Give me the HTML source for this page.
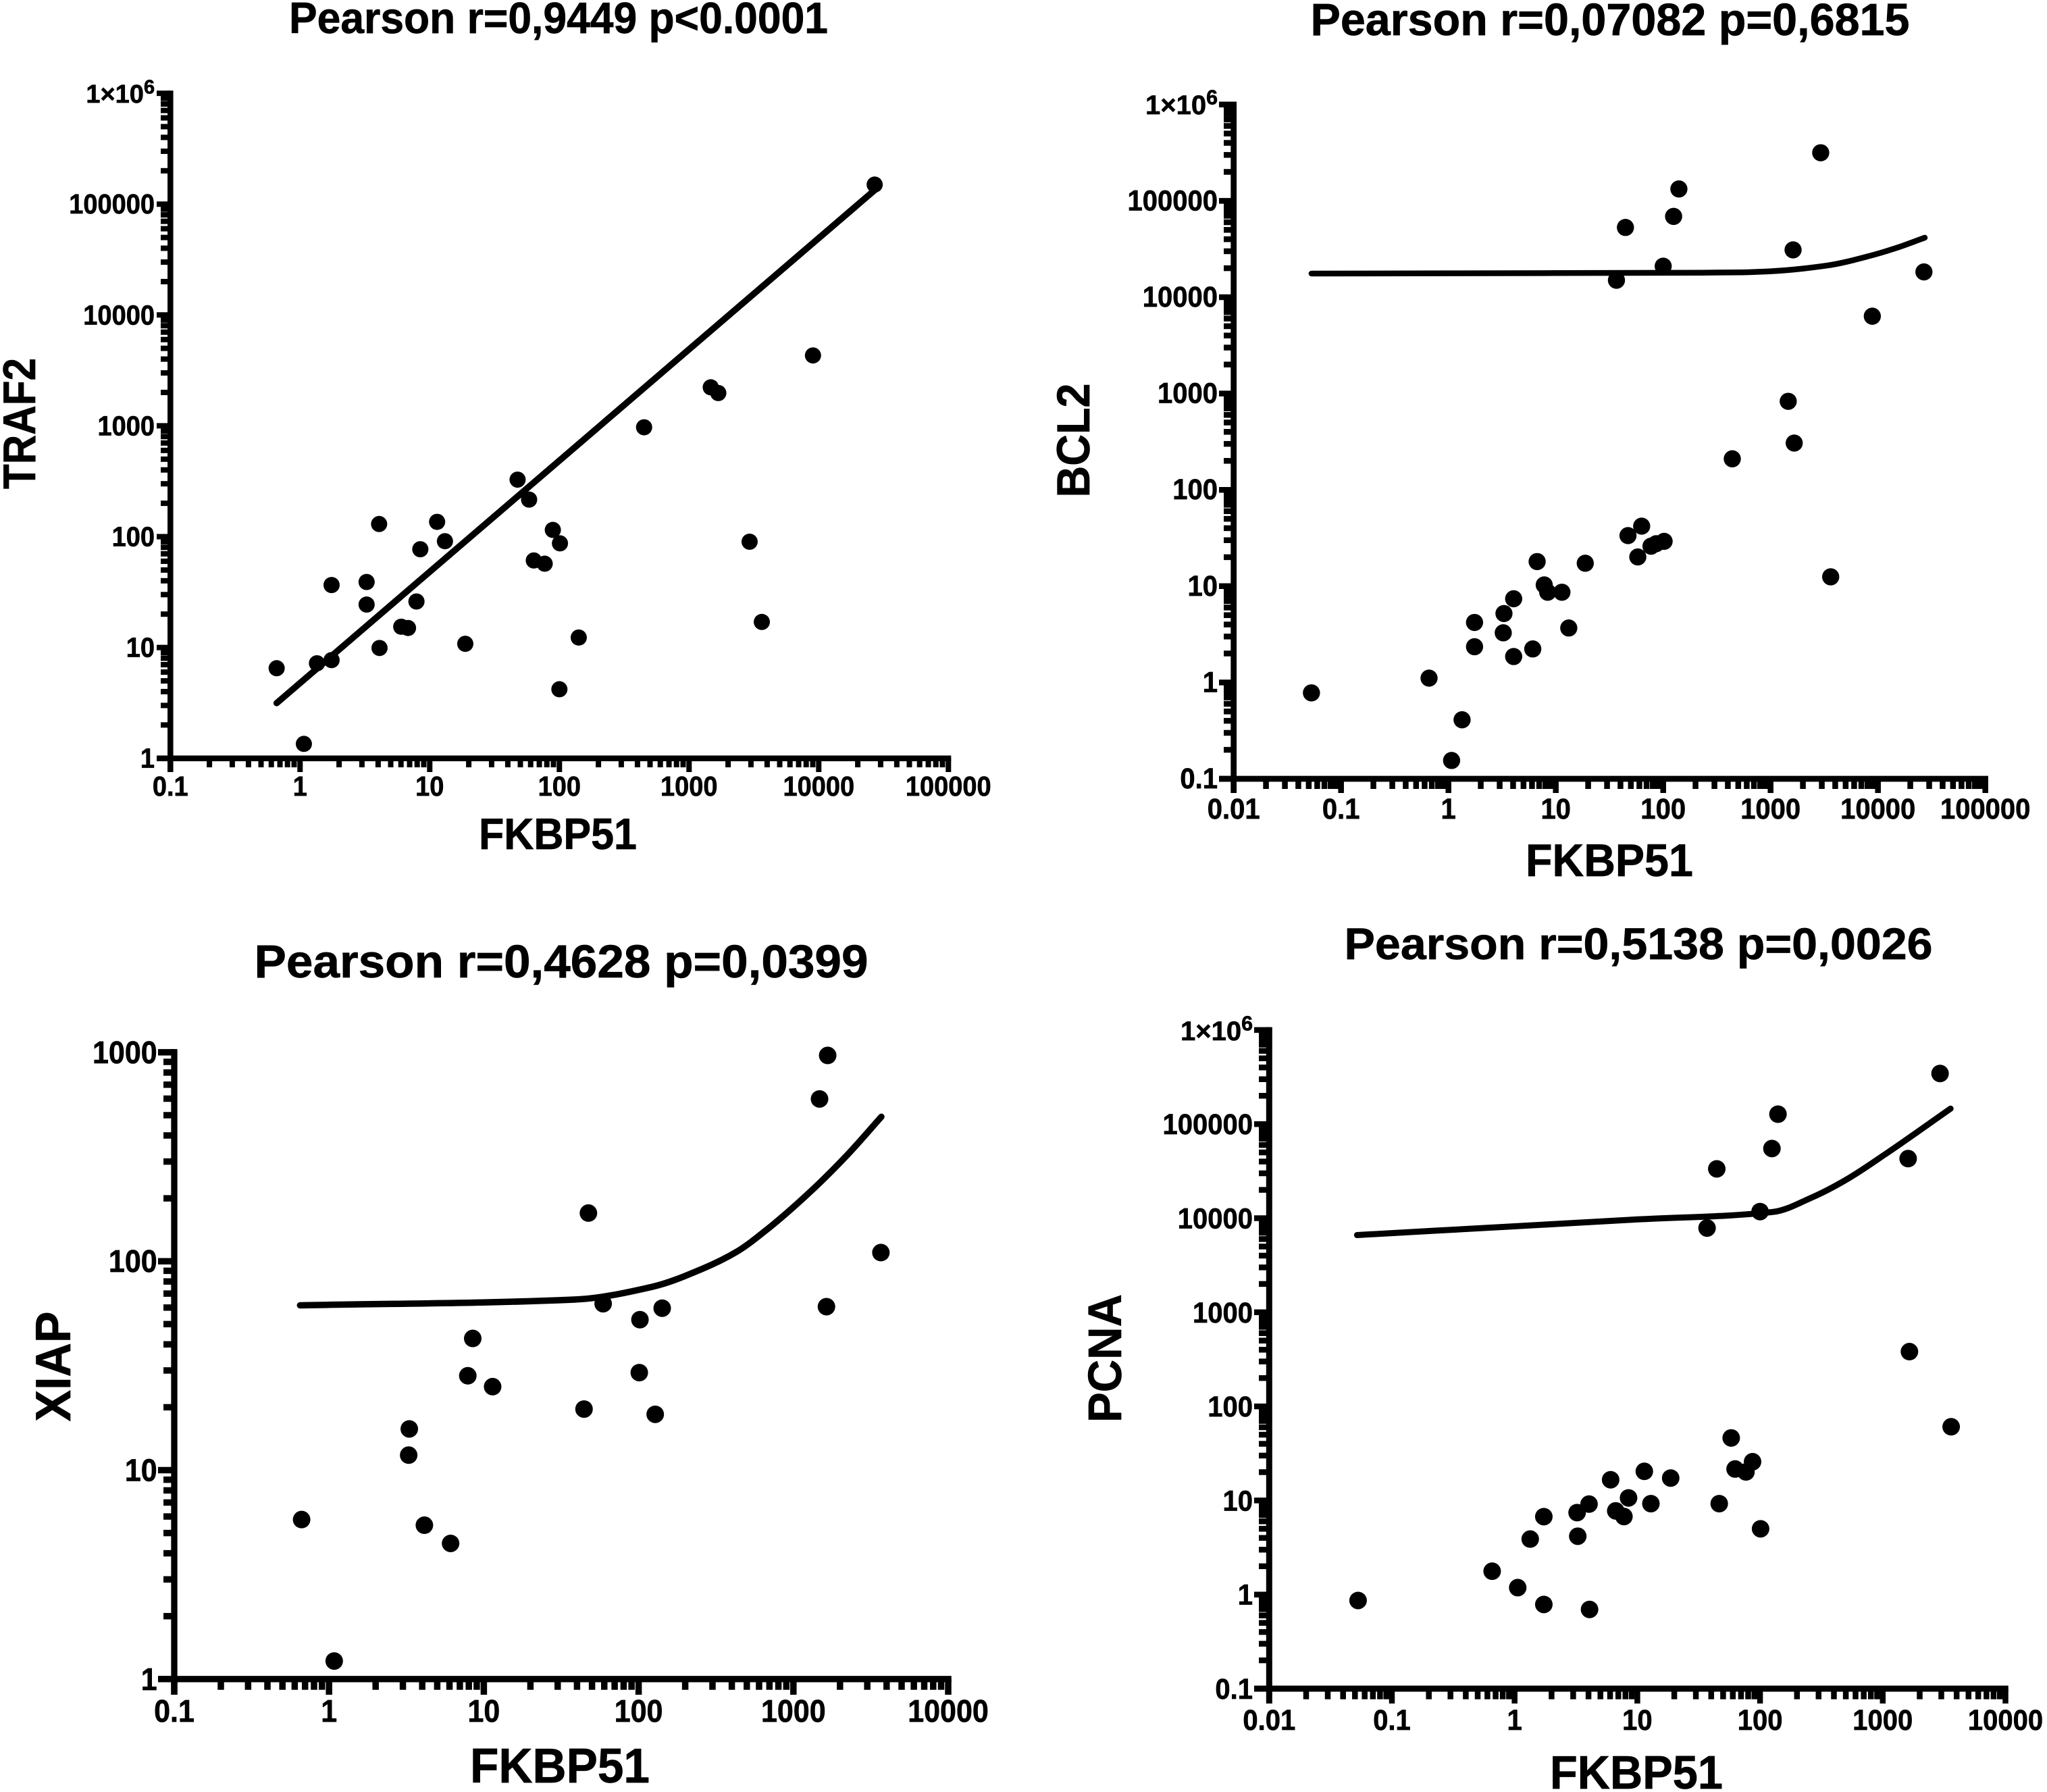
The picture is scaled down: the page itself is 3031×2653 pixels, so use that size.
<!DOCTYPE html>
<html lang="en">
<head>
<meta charset="utf-8">
<title>FKBP51 correlation scatter plots</title>
<style>
html,body{margin:0;padding:0;background:#fff;}
svg{display:block;}
text{font-family:"Liberation Sans",Arial,sans-serif;font-weight:bold;fill:#000;stroke:#000;stroke-width:0.7px;}
</style>
</head>
<body>
<svg id="figure" xmlns="http://www.w3.org/2000/svg" width="3031" height="2653" viewBox="0 0 3031 2653">
  <rect x="0" y="0" width="3031" height="2653" fill="#ffffff"/>

  <text x="827" y="49" font-size="65" text-anchor="middle" textLength="798" lengthAdjust="spacingAndGlyphs">Pearson r=0,9449 p&lt;0.0001</text>
  <text x="826" y="1257" font-size="65" text-anchor="middle" textLength="234" lengthAdjust="spacingAndGlyphs">FKBP51</text>
  <text x="0" y="0" font-size="68" text-anchor="middle" textLength="194" lengthAdjust="spacingAndGlyphs" transform="translate(52 627) rotate(-90)">TRAF2</text>

  <text x="2384" y="52" font-size="67" text-anchor="middle" textLength="887" lengthAdjust="spacingAndGlyphs">Pearson r=0,07082 p=0,6815</text>
  <text x="2383" y="1297" font-size="68" text-anchor="middle" textLength="248" lengthAdjust="spacingAndGlyphs">FKBP51</text>
  <text x="0" y="0" font-size="69" text-anchor="middle" textLength="169" lengthAdjust="spacingAndGlyphs" transform="translate(1613 652) rotate(-90)">BCL2</text>

  <text x="831" y="1447" font-size="69" text-anchor="middle" textLength="909" lengthAdjust="spacingAndGlyphs">Pearson r=0,4628 p=0,0399</text>
  <text x="829" y="2639" font-size="72" text-anchor="middle" textLength="266" lengthAdjust="spacingAndGlyphs">FKBP51</text>
  <text x="0" y="0" font-size="73" text-anchor="middle" textLength="163" lengthAdjust="spacingAndGlyphs" transform="translate(104 2023) rotate(-90)">XIAP</text>

  <text x="2426" y="1420" font-size="66" text-anchor="middle" textLength="871" lengthAdjust="spacingAndGlyphs">Pearson r=0,5138 p=0,0026</text>
  <text x="2423" y="2648" font-size="70" text-anchor="middle" textLength="256" lengthAdjust="spacingAndGlyphs">FKBP51</text>
  <text x="0" y="0" font-size="70" text-anchor="middle" textLength="190" lengthAdjust="spacingAndGlyphs" transform="translate(1660 2011) rotate(-90)">PCNA</text>
</svg>
<script>
// ---- TRAF2 panel data ----
const traf2XTickLabels = ['0.1','1','10','100','1000','10000','100000'];
const traf2YTickLabels = ['1','10','100','1000','10000','100000','1×10^6'];
const traf2PointsX = [0.66,1.07,1.35,1.75,1.75,3.26,3.26,4.07,4.1,6.03,6.8,7.9,8.46,11.4,13.1,18.8,47.6,58.4,63.5,77,89,101,100,141,450,1470,1680,2930,3640,9030,27000];
const traf2PointsY = [6.5,1.35,7.2,7.7,36.6,39,24.4,130,9.9,15.4,15,26,77,136,91,10.8,327,216,61,57,115,87,4.2,12.3,970,2225,1976,90,17,4315,150000];
const traf2LineX = [0.66,27000];
const traf2LineY = [3.15,133700];

// ---- BCL2 panel data ----
const bcl2XTickLabels = ['0.01','0.1','1','10','100','1000','10000','100000'];
const bcl2YTickLabels = ['0.1','1','10','100','1000','10000','100000','1×10^6'];
const bcl2PointsX = [0.053,0.66,1.07,1.34,1.75,1.75,3.24,3.29,4.05,4.05,6.1,6.7,7.8,8.4,11.4,13.2,18.8,36.7,44.5,47,58,63,77,86,102,100,125,140,440,1460,1620,1660,2930,3630,8860,26800];
const bcl2PointsY = [0.78,1.11,0.155,0.41,4.2,2.35,3.28,5.2,7.4,1.86,2.23,18,10.3,8.65,8.65,3.68,17.3,15000,53000,33.5,20.1,42,26,27.6,29.2,21000,69000,133000,210,830,31000,306,316000,12.5,6350,18300];
const bcl2LineX = [0.053,1,10,100,500,1000,3330,8860,15500,27300];
const bcl2LineY = [17600,17700,17800,17900,18100,18600,21300,27300,33000,41500];

// ---- XIAP panel data ----
const xiapXTickLabels = ['0.1','1','10','100','1000','10000'];
const xiapYTickLabels = ['1','10','100','1000'];
const xiapPointsX = [0.665,1.08,3.27,3.3,4.13,6.1,7.88,8.48,11.4,44.4,47.4,59,102,101,128,142,1475,1635,1665,3675];
const xiapPointsY = [5.8,1.22,11.8,15.75,5.45,4.46,28.3,42.7,25.1,19.6,170,62.6,52.5,29.3,18.5,59.6,598,60.6,966,110];
const xiapLineX = [0.65,38.2,123,254,430,700,1380,2250,3700];
const xiapLineY = [61.5,65.5,75.5,91.5,111,145,226,325,491];

// ---- PCNA panel data ----
const pcnaXTickLabels = ['0.01','0.1','1','10','100','1000','10000'];
const pcnaYTickLabels = ['0.1','1','10','100','1000','10000','100000','1×10^6'];
const pcnaPointsX = [0.053,0.656,1.06,1.34,1.73,1.73,3.23,3.27,4.04,4.08,6.06,6.67,7.78,8.48,11.4,12.9,18.7,37,44.4,46.5,58.2,62.6,76.8,86.9,101,100,125,140,1610,1650,2930,3610];
const pcnaPointsY = [0.865,1.77,1.185,3.89,6.73,0.785,7.43,4.17,9.15,0.695,16.6,7.75,6.75,10.65,20.4,9.25,17.3,7860,33450,9.25,46.2,21.6,20.1,25.8,5,11750,55000,127500,43000,382,345000,60.7];
const pcnaLineX = [0.052,1,10,128,267,495,1030,3570];
const pcnaLineY = [6620,8200,9700,11670,16700,25300,47100,146000];

const SVG_NS = 'http://www.w3.org/2000/svg';
const svgRoot = document.getElementById('figure');

function make(tag, attrs, parent) {
  const el = document.createElementNS(SVG_NS, tag);
  for (const k in attrs) el.setAttribute(k, attrs[k]);
  parent.appendChild(el);
  return el;
}

function logScale(domainMin, originPx, pxPerDecade) {
  return function (v) { return originPx + (Math.log10(v) - Math.log10(domainMin)) * pxPerDecade; };
}

// Monotone cubic path through the read-off points (no overshoot).
function monotonePath(xs, ys) {
  const n = xs.length;
  if (n < 3) return 'M' + xs[0] + ',' + ys[0] + 'L' + xs[n - 1] + ',' + ys[n - 1];
  const dx = [], slope = [], tan = [];
  for (let i = 0; i < n - 1; i++) {
    dx.push(xs[i + 1] - xs[i]);
    slope.push((ys[i + 1] - ys[i]) / dx[i]);
  }
  tan.push(slope[0]);
  for (let i = 1; i < n - 1; i++) {
    if (slope[i - 1] * slope[i] <= 0) { tan.push(0); continue; }
    const w1 = 2 * dx[i] + dx[i - 1], w2 = dx[i] + 2 * dx[i - 1];
    tan.push((w1 + w2) / (w1 / slope[i - 1] + w2 / slope[i]));
  }
  tan.push(slope[n - 2]);
  let d = 'M' + xs[0].toFixed(1) + ',' + ys[0].toFixed(1);
  for (let i = 0; i < n - 1; i++) {
    const h = dx[i] / 3;
    d += 'C' + (xs[i] + h).toFixed(1) + ',' + (ys[i] + tan[i] * h).toFixed(1) + ' ' +
         (xs[i + 1] - h).toFixed(1) + ',' + (ys[i + 1] - tan[i + 1] * h).toFixed(1) + ' ' +
         xs[i + 1].toFixed(1) + ',' + ys[i + 1].toFixed(1);
  }
  return d;
}

// Slightly taller, condensed glyphs while keeping the measured label width.
function condense(label, size) {
  const width = label.getComputedTextLength();
  label.setAttribute('font-size', size * 1.07);
  label.setAttribute('textLength', width.toFixed(1));
  label.setAttribute('lengthAdjust', 'spacingAndGlyphs');
}

function drawPanel(cfg) {
  const g = make('g', {}, svgRoot);
  
  

  const sx = logScale(cfg.xMin, cfg.x0, cfg.xDecade);
  const sy = logScale(cfg.yMin, cfg.y0, -cfg.yDecade);
  const xDecades = cfg.xLabels.length - 1;
  const yDecades = cfg.yLabels.length - 1;
  const xEnd = sx(cfg.xMin * Math.pow(10, xDecades));
  const yEnd = sy(cfg.yMin * Math.pow(10, yDecades));

  // y axis ticks
  for (let d = 0; d <= yDecades; d++) {
    const base = cfg.yMin * Math.pow(10, d);
    for (let m = 1; m <= 9; m++) {
      if (d === yDecades && m > 1) break;
      const py = sy(base * m);
      const tick = make('line', {
        x1: m === 1 ? cfg.yMajorLeft : cfg.yMinorLeft, x2: cfg.x0,
        y1: py, y2: py, stroke: '#000', 'stroke-width': cfg.tickWidth
      }, g);
      
      
    }
    drawYLabel(g, cfg, cfg.yLabels[d], sy(base));
  }

  // x axis ticks
  for (let d = 0; d <= xDecades; d++) {
    const base = cfg.xMin * Math.pow(10, d);
    for (let m = 1; m <= 9; m++) {
      if (d === xDecades && m > 1) break;
      const px = sx(base * m);
      const tick = make('line', {
        x1: px, x2: px, y1: cfg.y0,
        y2: m === 1 ? cfg.xMajorBottom : cfg.xMinorBottom,
        stroke: '#000', 'stroke-width': cfg.tickWidth
      }, g);
      
      
    }
    const label = make('text', {
      x: sx(base), y: cfg.xLabelBaseline, 'font-size': cfg.labelSize, 'text-anchor': 'middle'
    }, g);
    label.textContent = cfg.xLabels[d];
    
    
    condense(label, cfg.labelSize);
  }

  // axis lines
  const yAxis = make('line', {
    x1: cfg.x0, x2: cfg.x0, y1: yEnd - cfg.tickWidth / 2, y2: cfg.xMajorBottom,
    stroke: '#000', 'stroke-width': cfg.axisWidth
  }, g);
  
  

  const xAxis = make('line', {
    x1: cfg.yMajorLeft, x2: xEnd + cfg.tickWidth / 2, y1: cfg.y0, y2: cfg.y0,
    stroke: '#000', 'stroke-width': cfg.axisWidth
  }, g);
  
  

  // fit line
  const fit = make('path', {
    d: monotonePath(cfg.lineX.map(sx), cfg.lineY.map(sy)), fill: 'none', stroke: '#000',
    'stroke-width': cfg.lineWidth, 'stroke-linecap': 'round', 'stroke-linejoin': 'round'
  }, g);
  
  

  // points
  cfg.pointsX.forEach(function (v, i) {
    const dot = make('circle', { cx: sx(v), cy: sy(cfg.pointsY[i]), r: cfg.dotR, fill: '#000' }, g);
    
    
  });
}

function drawYLabel(g, cfg, labelText, py) {
  const parts = labelText.split('^');
  const label = make('text', {
    x: cfg.yLabelRight, y: py + cfg.yLabelDrop, 'font-size': cfg.labelSize, 'text-anchor': 'end'
  }, g);
  
  
  if (parts.length === 2) {
    const basePart = make('tspan', {}, label);
    basePart.textContent = parts[0];
    const sup = make('tspan', { dy: -cfg.labelSize * 0.36, 'font-size': cfg.labelSize * 0.76 }, label);
    sup.textContent = parts[1];
  } else {
    label.textContent = labelText;
    condense(label, cfg.labelSize);
  }
}

drawPanel({
  name: 'traf2', xMin: 0.1, yMin: 1, x0: 252.3, y0: 1122.7, xDecade: 192, yDecade: 164.1,
  xLabels: traf2XTickLabels, yLabels: traf2YTickLabels,
  pointsX: traf2PointsX, pointsY: traf2PointsY, lineX: traf2LineX, lineY: traf2LineY,
  yMajorLeft: 232, yMinorLeft: 238, xMajorBottom: 1143, xMinorBottom: 1136,
  tickWidth: 8, axisWidth: 8.5, lineWidth: 9.5, dotR: 12,
  labelSize: 38, xLabelBaseline: 1178, yLabelRight: 229, yLabelDrop: 14
});

drawPanel({
  name: 'bcl2', xMin: 0.01, yMin: 0.1, x0: 1826.7, y0: 1153, xDecade: 159, yDecade: 142.6,
  xLabels: bcl2XTickLabels, yLabels: bcl2YTickLabels,
  pointsX: bcl2PointsX, pointsY: bcl2PointsY, lineX: bcl2LineX, lineY: bcl2LineY,
  yMajorLeft: 1805, yMinorLeft: 1812, xMajorBottom: 1174, xMinorBottom: 1168,
  tickWidth: 8.5, axisWidth: 8.7, lineWidth: 8.5, dotR: 12.7,
  labelSize: 40, xLabelBaseline: 1212, yLabelRight: 1803, yLabelDrop: 14
});

drawPanel({
  name: 'xiap', xMin: 0.1, yMin: 1, x0: 258, y0: 2485.8, xDecade: 229.2, yDecade: 309.3,
  xLabels: xiapXTickLabels, yLabels: xiapYTickLabels,
  pointsX: xiapPointsX, pointsY: xiapPointsY, lineX: xiapLineX, lineY: xiapLineY,
  yMajorLeft: 234, yMinorLeft: 242, xMajorBottom: 2509, xMinorBottom: 2501.7,
  tickWidth: 9.5, axisWidth: 9.3, lineWidth: 9.5, dotR: 13,
  labelSize: 43, xLabelBaseline: 2549, yLabelRight: 232.7, yLabelDrop: 16
});

drawPanel({
  name: 'pcna', xMin: 0.01, yMin: 0.1, x0: 1879.3, y0: 2500, xDecade: 181.7, yDecade: 139.3,
  xLabels: pcnaXTickLabels, yLabels: pcnaYTickLabels,
  pointsX: pcnaPointsX, pointsY: pcnaPointsY, lineX: pcnaLineX, lineY: pcnaLineY,
  yMajorLeft: 1857, yMinorLeft: 1864, xMajorBottom: 2522, xMinorBottom: 2515.7,
  tickWidth: 8.5, axisWidth: 9, lineWidth: 9, dotR: 13,
  labelSize: 40, xLabelBaseline: 2561, yLabelRight: 1855, yLabelDrop: 15
});
</script>
</body>
</html>
